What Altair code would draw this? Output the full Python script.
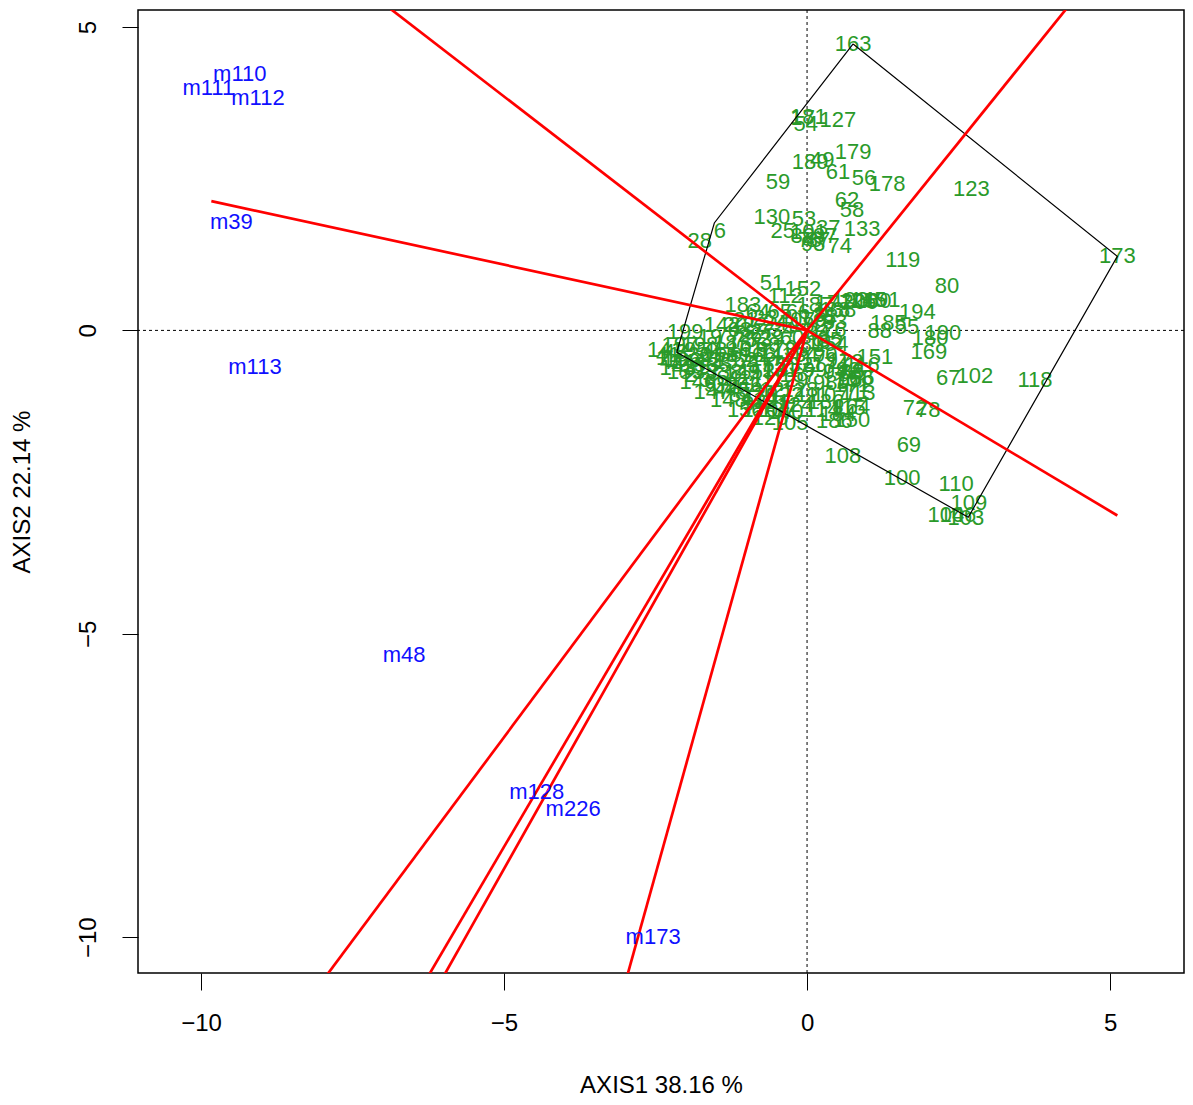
import altair as alt
import pandas as pd

# ---- individuals (green labels): id, AXIS1, AXIS2 ----
ind_id = ["163","181","54","17","127","179","189","49","59","61","56","178","62","58","123",
          "130","53","25","133","37","74","76","82","87","93","97","101","28","6","119","173",
          "80","51","152","112","183","191","125","145","160","138","194","185","55","88","190",
          "180","169","151","67","102","118","72","78","69","108","100","110","109","103","104",
          "106","105","184","164","150","186","71","136","199",
          "41","43","44","195","196","30","31","32","33","35","36","38","39","42","45","46","47",
          "197","198","48","50","52","57","1","2","3","4","5","8","9","10","11","12","13","14",
          "15","16","18","19",
          "20","21","22","23","24","26","27","29","34","40","60","63","64","65","66","68","70",
          "73","75","77","142",
          "79","81","83","84","85","154","86","89","90","91","92","94","95","96","98","99","107",
          "111","113","114","115","116","117",
          "120","121","122","124","126","128","129","131","132","134","135","137","139","140",
          "141","143","144","146","147","148","149","153","155","156","157","158","159","161",
          "162","165","166","167","168","170","171","172","174","175","176","177","182","187",
          "188","192","193","200"]
ind_x = [0.76,0.02,-0.02,-0.07,0.51,0.76,0.05,0.25,-0.48,0.51,0.94,1.32,0.66,0.74,2.71,
         -0.58,-0.05,-0.40,0.91,0.35,0.54,0.05,-0.07,0.18,0.10,0.30,0.02,-1.77,-1.44,1.58,5.12,
         2.31,-0.58,-0.07,-0.36,-1.06,1.24,0.84,1.01,1.09,0.51,1.82,1.34,1.65,1.20,2.24,
         2.03,2.01,1.12,2.33,2.77,3.76,1.78,2.00,1.68,0.59,1.57,2.46,2.67,2.62,2.29,
         2.49,-0.28,0.51,0.74,0.74,0.45,0.83,0.31,-2.01,
         -2.29,-2.18,-2.23,-1.93,-2.05,-1.77,-1.85,-1.60,-1.68,-1.44,-1.50,-1.27,-1.35,-1.11,-1.14,-0.94,-0.89,
         -2.10,-1.77,-1.52,-1.27,-1.02,-0.78,-2.39,-1.93,-1.68,-1.44,-1.60,-1.19,-0.97,-0.69,-0.74,-0.58,-0.53,-0.61,
         -0.86,-1.11,-1.35,-1.60,
         -1.19,-1.02,-0.86,-0.69,-0.53,-0.94,-0.74,-0.58,-0.41,-0.28,-0.25,-1.11,-0.81,-0.45,-0.15,-0.64,-0.36,
         -0.78,-1.02,-1.30,-1.40,
         0.13,0.30,0.46,0.18,0.38,0.38,0.74,0.08,0.30,0.51,0.68,0.46,0.71,0.91,0.30,0.13,0.38,
         0.08,0.84,0.25,0.68,0.91,0.02,
         -0.78,-0.58,-0.36,-0.20,-0.61,-0.12,-0.28,-0.45,-0.20,-0.12,-0.28,-0.48,-0.78,-0.36,
         -2.34,-2.13,-1.96,-1.80,-1.57,-1.30,-1.07,-0.83,-0.64,-1.02,-1.24,-1.77,-2.01,-1.02,
         -1.07,-1.44,-0.81,-0.15,0.79,0.54,0.74,0.63,0.38,0.18,0.35,0.43,0.02,0.13,
         0.41,0.30,0.71,0.87]
ind_y = [4.72,3.51,3.40,3.50,3.46,2.94,2.78,2.81,2.45,2.61,2.51,2.41,2.15,1.98,2.33,
         1.87,1.84,1.64,1.67,1.69,1.39,1.49,1.55,1.49,1.42,1.55,1.62,1.47,1.64,1.16,1.22,
         0.73,0.78,0.68,0.57,0.42,0.50,0.48,0.50,0.48,0.33,0.30,0.12,0.05,-0.01,-0.04,
         -0.13,-0.36,-0.44,-0.79,-0.75,-0.82,-1.28,-1.31,-1.89,-2.07,-2.43,-2.53,-2.85,-3.09,-3.04,
         -3.04,-1.53,-1.37,-1.26,-1.48,-1.49,-1.02,-1.18,-0.03,
         -0.41,-0.36,-0.52,-0.32,-0.49,-0.41,-0.62,-0.49,-0.69,-0.57,-0.79,-0.69,-0.90,-0.79,-0.98,-0.90,-1.12,
         -0.24,-0.24,-0.32,-0.41,-0.49,-0.57,-0.46,-0.74,-0.82,-0.98,-0.90,-1.07,-1.21,-1.15,-0.82,-0.98,-0.65,-0.41,
         -0.32,-0.24,-0.21,-0.11,
         0.09,0.17,0.09,0.20,0.12,-0.08,-0.03,-0.13,0.00,0.17,-0.13,0.00,0.30,0.30,0.30,-0.24,-0.29,
         -0.16,-0.16,-0.08,0.09,
         0.17,0.25,0.14,-0.04,-0.16,-0.23,-0.68,-0.24,-0.41,-0.49,-0.65,-0.69,-0.82,-0.79,-0.87,-0.65,-1.07,
         -1.07,-1.03,-1.31,-1.28,-0.57,-0.46,
         -1.31,-1.18,-1.07,-1.23,-1.45,-0.98,-0.82,-0.65,-0.57,-0.41,-0.32,-1.31,-1.07,-1.35,
         -0.32,-0.62,-0.52,-0.85,-1.02,-1.15,-0.69,-0.69,-0.57,-1.31,-0.52,-0.57,-0.69,-0.32,
         -0.90,-0.41,-0.41,-0.74,-0.79,-0.82,-0.90,-0.52,-0.57,0.20,0.00,0.45,0.09,0.42,
         0.33,-0.19,0.50,0.47]

# ---- variables (blue labels) ----
var_name = ["m110","m111","m112","m39","m113","m48","m128","m226","m173"]
var_x = [-9.36,-9.88,-9.06,-9.50,-9.11,-6.65,-4.46,-3.86,-2.54]
var_y = [4.22,3.99,3.83,1.79,-0.60,-5.35,-7.61,-7.89,-9.99]

# ---- red lines from the origin ----
line_x = [-7.20,-9.83,5.12,4.40,-8.10,-6.38,-6.12,-3.03]
line_y = [5.55,2.13,-3.05,5.45,-10.86,-10.86,-10.86,-10.86]

# ---- convex hull of individuals ----
hull_x = [0.76,5.12,2.66,-2.15,-1.53,0.76]
hull_y = [4.72,1.22,-3.08,-0.36,1.77,4.72]

FONT = "Liberation Sans"
GREEN = "#2a9a2a"

xs = alt.Scale(domain=[-11.04, 6.22], nice=False, zero=False)
ys = alt.Scale(domain=[-10.59, 5.28], nice=False, zero=False)

xaxis = alt.Axis(values=[-10, -5, 0, 5], title="AXIS1 38.16 %", grid=False, domain=False,
                 tickColor="black", tickSize=17, tickWidth=1,
                 labelFont=FONT, labelFontSize=24, labelColor="black", labelPadding=21,
                 labelBaseline="top", labelFlush=False, labelOverlap=False,
                 titleFont=FONT, titleFontSize=24, titleFontWeight="normal", titleColor="black",
                 titleX=523, titleY=112, titleAlign="center", titleBaseline="middle")
yaxis = alt.Axis(values=[-10, -5, 0, 5], title="AXIS2 22.14 %", grid=False, domain=False,
                 tickColor="black", tickSize=16, tickWidth=1,
                 labelFont=FONT, labelFontSize=24, labelColor="black", labelPadding=34,
                 labelAngle=270, labelAlign="center", labelBaseline="middle",
                 labelFlush=False, labelOverlap=False,
                 titleFont=FONT, titleFontSize=24, titleFontWeight="normal", titleColor="black",
                 titleAngle=270, titleX=-116, titleY=481.5, titleAlign="center",
                 titleBaseline="middle")


def X(f):
    return alt.X(f, type="quantitative", scale=xs, axis=xaxis)


def Y(f):
    return alt.Y(f, type="quantitative", scale=ys, axis=yaxis)


ind = pd.DataFrame({"id": ind_id, "a1": ind_x, "a2": ind_y})
var = pd.DataFrame({"name": var_name, "a1": var_x, "a2": var_y})
lines = pd.DataFrame({"x0": [0.0] * len(line_x), "y0": [0.0] * len(line_x),
                      "x1": line_x, "y1": line_y})
hull = pd.DataFrame({"a1": hull_x, "a2": hull_y, "o": list(range(len(hull_x)))})
zero = pd.DataFrame({"z": [0.0]})

vline = alt.Chart(zero).mark_rule(color="black", strokeWidth=1, strokeDash=[3, 3]).encode(x=X("z"))
hline = alt.Chart(zero).mark_rule(color="black", strokeWidth=1, strokeDash=[3, 3]).encode(y=Y("z"))

ind_text = alt.Chart(ind).mark_text(font=FONT, fontSize=22, color=GREEN).encode(
    x=X("a1"), y=Y("a2"), text="id:N")

hull_line = alt.Chart(hull).mark_line(color="black", strokeWidth=1.2).encode(
    x=X("a1"), y=Y("a2"), order="o:Q")

red = alt.Chart(lines).mark_rule(color="#ff0000", strokeWidth=2.7, clip=True).encode(
    x=X("x0"), y=Y("y0"), x2="x1", y2="y1")

var_text = alt.Chart(var).mark_text(font=FONT, fontSize=22, color="#1010ff").encode(
    x=X("a1"), y=Y("a2"), text="name:N")

chart = alt.layer(vline, hline, ind_text, hull_line, red, var_text).properties(
    width=1046, height=963,
    background="white",
    autosize=alt.AutoSizeParams(type="none"),
    padding={"left": 130, "top": 2, "right": 1, "bottom": 124},
).configure_view(stroke="black", strokeWidth=1.5)

chart.save("out.html", embed_options={"renderer": "svg", "actions": False})
